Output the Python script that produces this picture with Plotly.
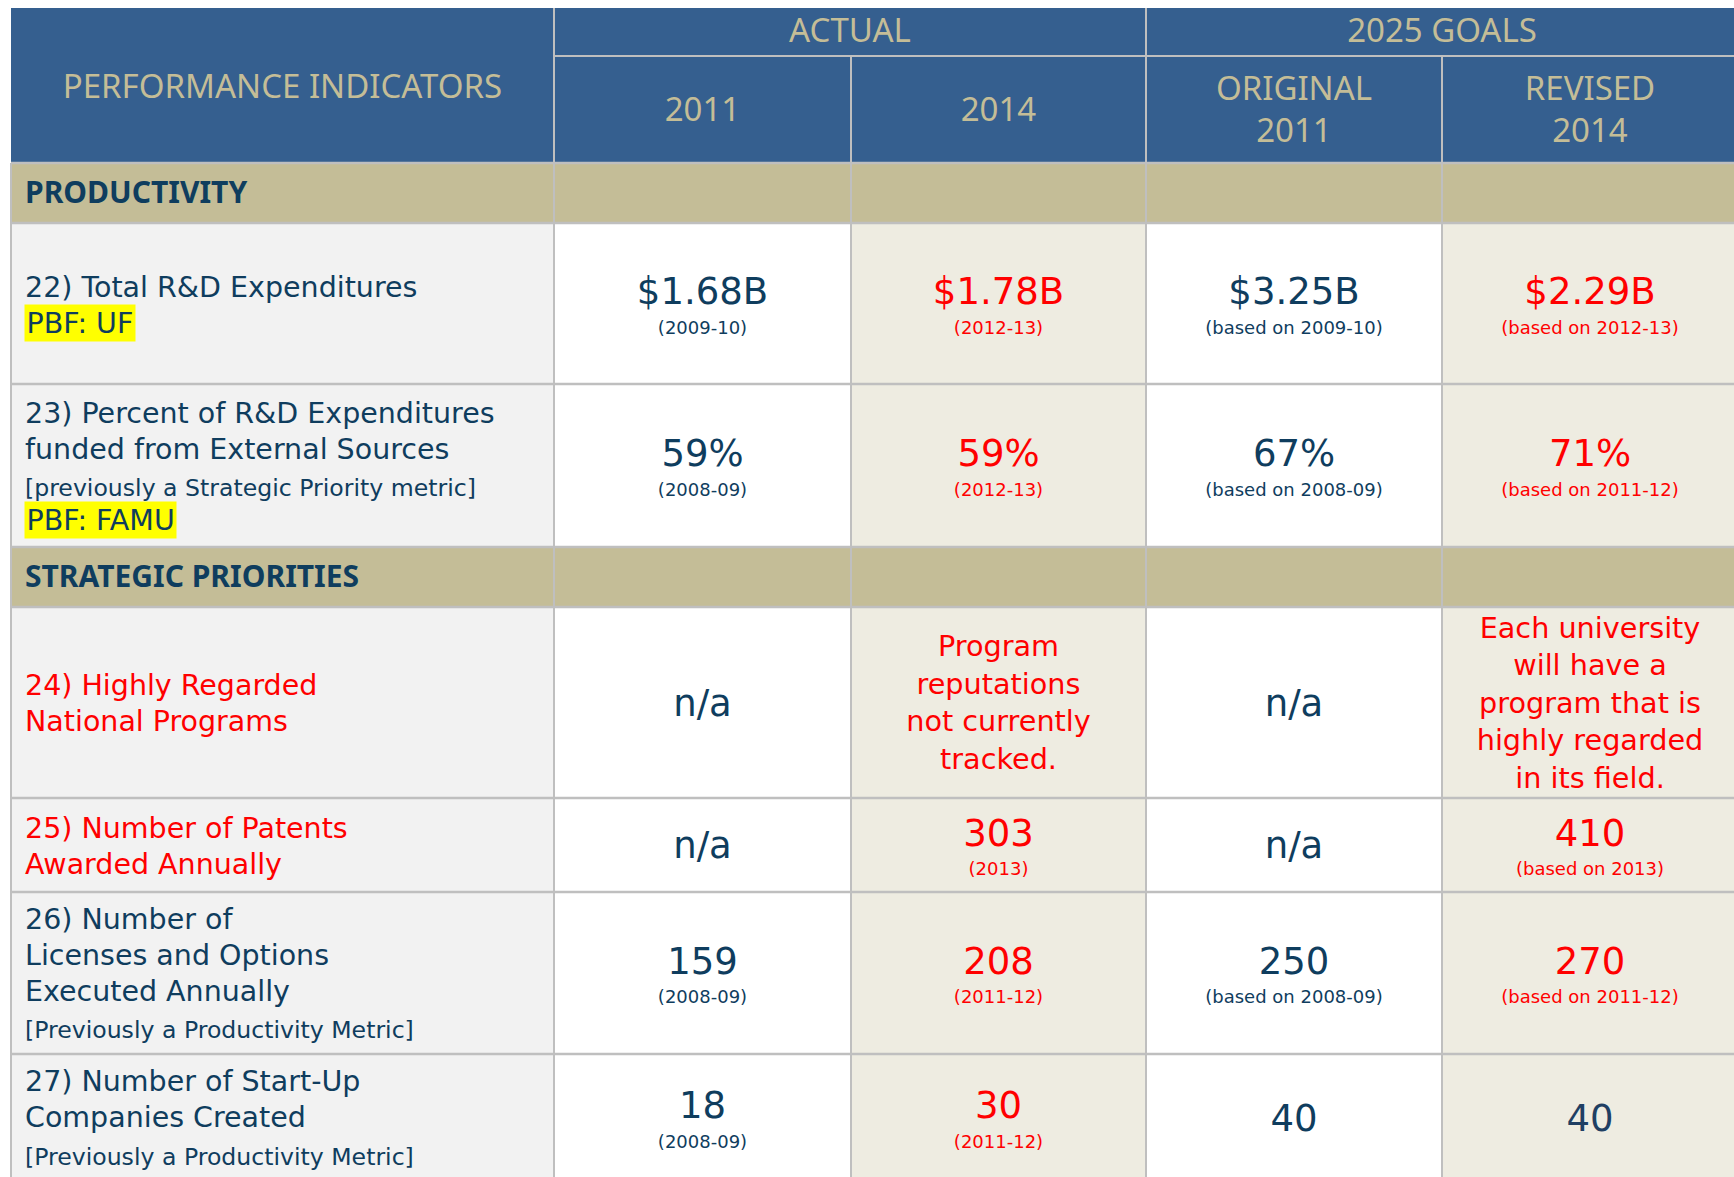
import plotly.graph_objects as go

# ---------------- data ----------------
header_first = "PERFORMANCE INDICATORS"
header_groups = ["ACTUAL", "2025 GOALS"]
header_cols = ["2011", "2014", "ORIGINAL\n2011", "REVISED\n2014"]

sections = ["PRODUCTIVITY", "STRATEGIC PRIORITIES"]
section_of_indicator = [0, 0, 1, 1, 1, 1]

indicator_lines = [
    ["22) Total R&D Expenditures"],
    ["23) Percent of R&D Expenditures", "funded from External Sources"],
    ["24) Highly Regarded", "National Programs"],
    ["25) Number of Patents", "Awarded Annually"],
    ["26) Number of", "Licenses and Options", "Executed Annually"],
    ["27) Number of Start-Up", "Companies Created"],
]
indicator_notes = [None, "[previously a Strategic Priority metric]", None, None,
                   "[Previously a Productivity Metric]", "[Previously a Productivity Metric]"]
pbf_tags = ["PBF: UF", "PBF: FAMU", None, None, None, None]
indicator_new = [False, False, True, True, False, False]

actual_2011 = ["$1.68B", "59%", "n/a", "n/a", "159", "18"]
actual_2011_base = ["(2009-10)", "(2008-09)", None, None, "(2008-09)", "(2008-09)"]
actual_2014 = ["$1.78B", "59%", "Program\nreputations\nnot currently\ntracked.", "303", "208", "30"]
actual_2014_base = ["(2012-13)", "(2012-13)", None, "(2013)", "(2011-12)", "(2011-12)"]
goal_original = ["$3.25B", "67%", "n/a", "n/a", "250", "40"]
goal_original_base = ["(based on 2009-10)", "(based on 2008-09)", None, None, "(based on 2008-09)", None]
goal_revised = ["$2.29B", "71%", "Each university\nwill have a\nprogram that is\nhighly regarded\nin its field.",
                "410", "270", "40"]
goal_revised_base = ["(based on 2012-13)", "(based on 2011-12)", None, "(based on 2013)", "(based on 2011-12)", None]
revised_changed = [True, True, True, True, True, False]

# ---------------- layout / style ----------------
W, H = 1734, 1177
col_edges = [11, 554, 851, 1146, 1442, 1738]
header_top, header_mid, header_bot = 8, 56, 163
section_h = 60
row_h = [161, 163, 191, 94, 162, 127]

BLUE = "#355F8F"
TAN = "#C4BD97"
DARK = "#0F3D5E"
DARK2 = "#1F3F63"
RED = "#FF0000"
GRID = "#BFBFBF"
LEFT_BG = "#F2F2F2"
ALT_BG = "#EEECE1"
col_bg = [LEFT_BG, "#FFFFFF", ALT_BG, "#FFFFFF", ALT_BG]

BODY = "DejaVu Sans"
HEAD = "Noto Sans"
LABEL_SIZE = 28.5
NOTE_SIZE = 23.6
VALUE_SIZE = 37
MULTI_SIZE = 28.7
BASE_SIZE = 18

shapes = []


def rect(x0, y0, x1, y1, color):
    shapes.append(dict(type="rect", xref="x", yref="y", x0=x0, y0=y0, x1=x1, y1=y1,
                       fillcolor=color, line=dict(width=0), layer="below"))


def line(x0, y0, x1, y1, color=GRID, w=2):
    shapes.append(dict(type="line", xref="x", yref="y", x0=x0, y0=y0, x1=x1, y1=y1,
                       line=dict(color=color, width=w), layer="below"))


groups = {}


def txt(x, base, s, size, color, family=BODY, align="center", weight="normal"):
    key = (size, color, family, align, weight)
    g = groups.setdefault(key, {"x": [], "y": [], "t": []})
    g["x"].append(x)
    g["y"].append(base - 0.25 * size)
    g["t"].append(s)


annotations = []


def highlight(x, base, s, size, color):
    bp = 1.5
    annotations.append(dict(x=x - bp, y=base - 0.928 * size - bp, xref="x", yref="y",
                            xanchor="left", yanchor="top", text=s, showarrow=False,
                            bgcolor="#FFFF00", borderpad=bp,
                            font=dict(family=BODY, size=size, color=color)))


# ---------------- header ----------------
rect(col_edges[0], header_top, col_edges[-1], header_bot, BLUE)
cx = [(col_edges[i] + col_edges[i + 1]) / 2 for i in range(len(col_edges) - 1)]
txt(cx[0], (header_top + header_bot) / 2 + 12, header_first, 33, TAN, HEAD)
for gi, gname in enumerate(header_groups):
    gx = (col_edges[1 + 2 * gi] + col_edges[3 + 2 * gi]) / 2
    txt(gx, (header_top + header_mid) / 2 + 10, gname, 33, TAN, HEAD)
for ci, cname in enumerate(header_cols):
    lines = cname.split("\n")
    sp = 42
    mid = (header_mid + header_bot) / 2 + 11
    first = mid - sp * (len(lines) - 1) / 2
    for li, l in enumerate(lines):
        txt(cx[ci + 1], first + li * sp, l, 33, TAN, HEAD)
line(col_edges[1], header_top, col_edges[1], header_bot)
line(col_edges[3], header_top, col_edges[3], header_bot)
line(col_edges[2], header_mid, col_edges[2], header_bot)
line(col_edges[4], header_mid, col_edges[4], header_bot)
line(col_edges[1], header_mid, col_edges[-1], header_mid)

# ---------------- body ----------------
y = header_bot
row_bounds = [y]
last_section = None


def place_value(ci, center, val, base, color):
    x = cx[ci]
    if "\n" in val:
        lines = val.split("\n")
        sp = 37.5
        first = center + 10 - sp * (len(lines) - 1) / 2
        for li, l in enumerate(lines):
            txt(x, first + li * sp, l, MULTI_SIZE, color)
    elif base:
        txt(x, center + 0.5, val, VALUE_SIZE, color)
        txt(x, center + 30, base, BASE_SIZE, color)
    else:
        txt(x, center + 13, val, VALUE_SIZE, color)


for i in range(len(indicator_lines)):
    sec = section_of_indicator[i]
    if sec != last_section:
        rect(col_edges[0], y, col_edges[-1], y + section_h, TAN)
        txt(25, y + section_h / 2 + 10, sections[sec], 30, DARK, HEAD, "left", "bold")
        y += section_h
        row_bounds.append(y)
        last_section = sec
    h = row_h[i]
    for c in range(5):
        rect(col_edges[c], y, col_edges[c + 1], y + h, col_bg[c])
    center = y + h / 2

    # indicator label lines
    items = [(l, LABEL_SIZE, "main") for l in indicator_lines[i]]
    if indicator_notes[i]:
        items.append((indicator_notes[i], NOTE_SIZE, "note"))
    if pbf_tags[i]:
        items.append((pbf_tags[i], LABEL_SIZE, "pbf"))
    gaps = {("main", "main"): 36, ("main", "note"): 37.5, ("note", "pbf"): 33, ("main", "pbf"): 35}
    bases = [0.0]
    for k in range(1, len(items)):
        bases.append(bases[-1] + gaps[(items[k - 1][2], items[k][2])])
    shift = center + 10.5 - (bases[0] + bases[-1]) / 2
    lab_color = RED if indicator_new[i] else DARK
    for (s, sz, kind), b in zip(items, bases):
        if kind == "pbf":
            highlight(25, b + shift, s, sz, DARK)
        else:
            txt(25, b + shift, s, sz, lab_color if kind == "main" else DARK, BODY, "left")

    place_value(1, center, actual_2011[i], actual_2011_base[i], DARK)
    place_value(2, center, actual_2014[i], actual_2014_base[i], RED)
    place_value(3, center, goal_original[i], goal_original_base[i], DARK)
    place_value(4, center, goal_revised[i], goal_revised_base[i], RED if revised_changed[i] else DARK2)
    y += h
    row_bounds.append(y)

# grid lines
for yb in row_bounds:
    line(col_edges[0], yb, col_edges[-1], yb, w=2.5)
for xb in col_edges:
    line(xb, header_bot, xb, row_bounds[-1])

fig = go.Figure()
for (size, color, family, align, weight), g in groups.items():
    fig.add_trace(go.Scatter(
        x=g["x"], y=g["y"], text=g["t"], mode="text",
        textposition="middle center" if align == "center" else "middle right",
        textfont=dict(size=size, color=color, family=family, weight=weight),
        hoverinfo="skip", showlegend=False, cliponaxis=False))

fig.update_layout(
    width=W, height=H, margin=dict(l=0, r=0, t=0, b=0),
    paper_bgcolor="white", plot_bgcolor="white",
    xaxis=dict(range=[0, W], visible=False, fixedrange=True),
    yaxis=dict(range=[H, 0], visible=False, fixedrange=True),
    shapes=shapes, annotations=annotations, showlegend=False,
)

fig.write_html("out.html", config={"displayModeBar": False},
               post_script="document.body.style.margin='0';document.body.style.overflow='hidden';")
